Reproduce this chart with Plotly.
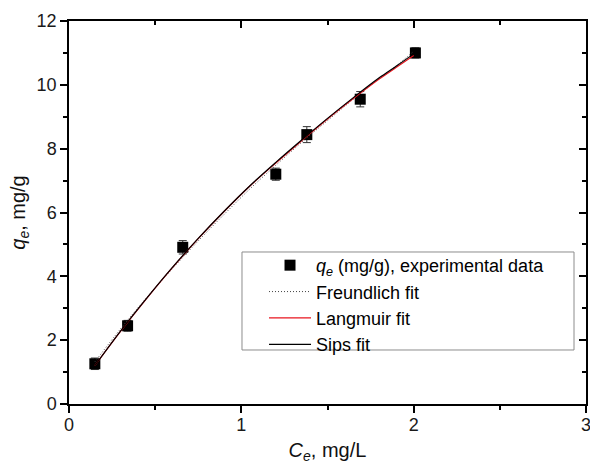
import plotly.graph_objects as go

# Experimental data
ce_exp = [0.15, 0.34, 0.66, 1.20, 1.38, 1.69, 2.01]
qe_exp = [1.26, 2.45, 4.91, 7.20, 8.44, 9.55, 11.00]
qe_err = [0.18, 0.17, 0.21, 0.19, 0.25, 0.24, 0.16]

# Fitted curves
ce_fit = [0.15, 0.30, 0.45, 0.60, 0.75, 0.90, 1.05, 1.20, 1.35, 1.50, 1.65, 1.80, 1.90, 2.00]
q_freundlich = [1.32, 2.36, 3.33, 4.24, 5.11, 5.94, 6.74, 7.48, 8.20, 8.88, 9.55, 10.20, 10.60, 11.05]
q_langmuir = [1.20, 2.28, 3.30, 4.27, 5.18, 6.03, 6.83, 7.55, 8.25, 8.93, 9.57, 10.18, 10.55, 10.92]
q_sips = [1.20, 2.29, 3.31, 4.28, 5.19, 6.04, 6.84, 7.57, 8.27, 8.95, 9.60, 10.22, 10.59, 10.97]

x_ticks = [0, 1, 2, 3]
y_ticks = [0, 2, 4, 6, 8, 10, 12]

FONT = "Liberation Sans, Arial, sans-serif"

fig = go.Figure()

fig.add_trace(go.Scatter(
    x=ce_exp, y=qe_exp, mode="markers",
    name="<i>q</i><sub><i>e</i></sub> (mg/g), experimental data",
    marker=dict(symbol="square", size=11, color="black", line=dict(width=0)),
    error_y=dict(type="data", array=qe_err, visible=True, color="#333333", thickness=1, width=4),
))
fig.add_trace(go.Scatter(
    x=ce_fit, y=q_freundlich, mode="lines", name="Freundlich fit",
    line=dict(color="#444444", width=1, dash="1px,2px", shape="spline"),
))
fig.add_trace(go.Scatter(
    x=ce_fit, y=q_langmuir, mode="lines", name="Langmuir fit",
    line=dict(color="#e8141e", width=1.2, shape="spline"),
))
fig.add_trace(go.Scatter(
    x=ce_fit, y=q_sips, mode="lines", name="Sips fit",
    line=dict(color="black", width=1.2, shape="spline"),
))

# invisible trace to activate top / right mirror axes
fig.add_trace(go.Scatter(x=[None], y=[None], xaxis="x2", yaxis="y2", showlegend=False, hoverinfo="skip"))

tick_common = dict(showgrid=False, zeroline=False, showline=True, linecolor="black", linewidth=1.5,
                   tickwidth=1.5, tickcolor="black", automargin=False)

fig.update_layout(
    width=590, height=464,
    margin=dict(l=69, r=4, t=21, b=60),
    paper_bgcolor="white", plot_bgcolor="white",
    font=dict(family=FONT, size=18, color="#1a1a1a"),
    showlegend=True,
    legend=dict(
        x=0.3772, y=0.410, xanchor="left", yanchor="top",
        borderwidth=0, bgcolor="rgba(0,0,0,0)",
        font=dict(family=FONT, size=18, color="#000000"),
        itemwidth=42, tracegroupgap=0,
    ),
    shapes=[dict(type="rect", xref="paper", yref="paper", x0=0.3346, x1=0.9768, y0=0.141, y1=0.3969,
                 line=dict(color="#8c8c8c", width=1), fillcolor="rgba(255,255,255,0)", layer="below")],
    xaxis=dict(
        range=[0, 3], tickvals=x_ticks, ticktext=[str(v) for v in x_ticks],
        ticks="outside", ticklen=7, ticklabeloverflow="allow", ticklabelstandoff=-3,
        minor=dict(dtick=0.5, tick0=0, ticks="outside", ticklen=4, tickwidth=1.5, tickcolor="black"),
        title=dict(text="<i>C</i><sub><i>e</i></sub>, mg/L", font=dict(size=20, family=FONT, color="#111111"), standoff=12),
        tickfont=dict(size=18, family=FONT, color="#1a1a1a"),
        **tick_common,
    ),
    yaxis=dict(
        range=[0, 12], tickvals=y_ticks, ticktext=[str(v) for v in y_ticks],
        ticks="outside", ticklen=7, ticklabeloverflow="allow",
        minor=dict(dtick=1, tick0=0, ticks="outside", ticklen=4, tickwidth=1.5, tickcolor="black"),
        title=dict(text="<i>q</i><sub><i>e</i></sub>, mg/g", font=dict(size=20, family=FONT, color="#111111"), standoff=6),
        tickfont=dict(size=18, family=FONT, color="#1a1a1a"),
        **tick_common,
    ),
    xaxis2=dict(
        overlaying="x", side="top", range=[0, 3], tickvals=x_ticks, showticklabels=False,
        ticks="inside", ticklen=7,
        minor=dict(dtick=0.5, tick0=0, ticks="inside", ticklen=4, tickwidth=1.5, tickcolor="black"),
        **tick_common,
    ),
    yaxis2=dict(
        overlaying="y", side="right", range=[0, 12], tickvals=y_ticks, showticklabels=False,
        ticks="inside", ticklen=7,
        minor=dict(dtick=1, tick0=0, ticks="inside", ticklen=4, tickwidth=1.5, tickcolor="black"),
        **tick_common,
    ),
)

fig.write_html("out.html", config={"displayModeBar": False},
               post_script="document.body.style.margin='0';")
